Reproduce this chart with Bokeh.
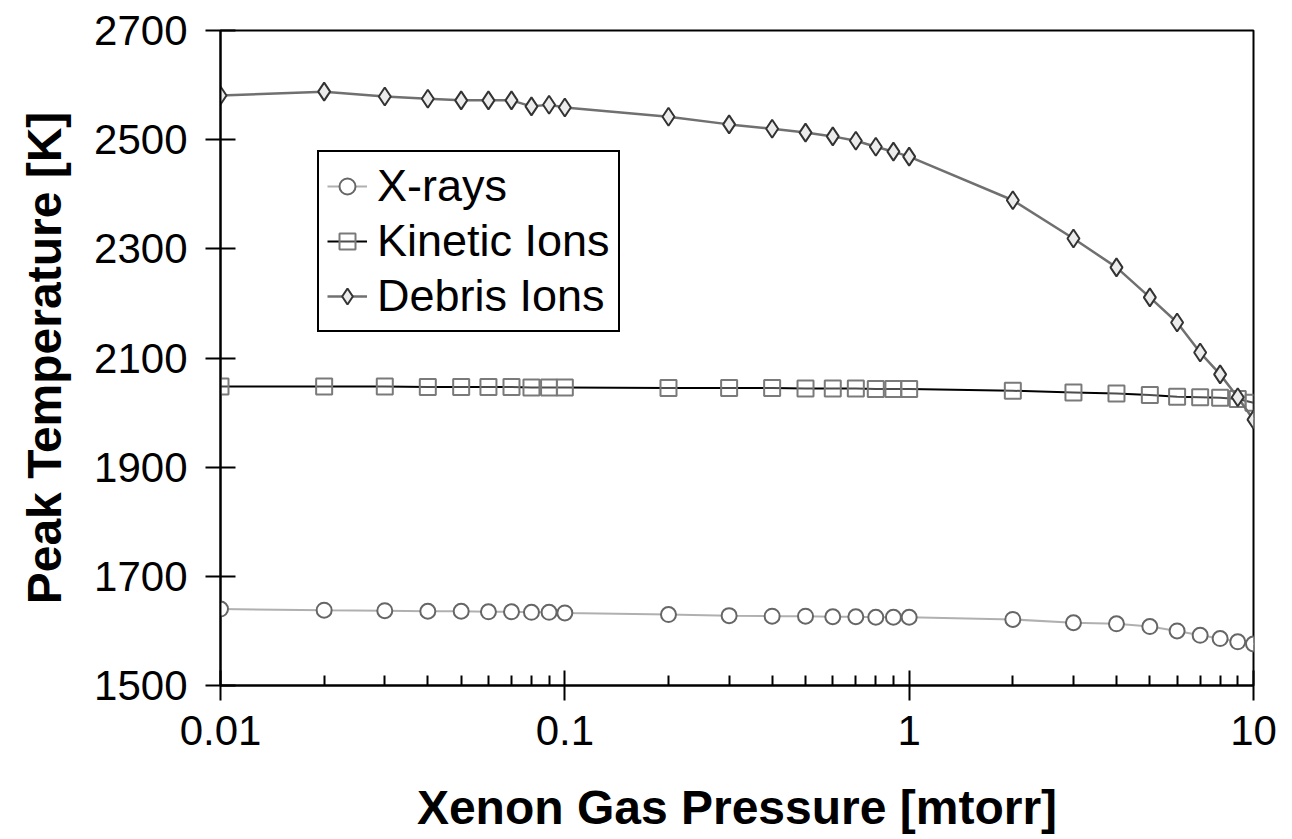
from bokeh.plotting import figure
from bokeh.models import FixedTicker, CustomJSTickFormatter, Legend, LegendItem, Range1d
from bokeh.embed import file_html
from bokeh.resources import INLINE

pressure = [0.01, 0.02, 0.03, 0.04, 0.05, 0.06, 0.07, 0.08, 0.09,
            0.1, 0.2, 0.3, 0.4, 0.5, 0.6, 0.7, 0.8, 0.9,
            1, 2, 3, 4, 5, 6, 7, 8, 9, 10]

xrays = [1640, 1638, 1637, 1636, 1636, 1635, 1635, 1634, 1634,
         1633, 1630, 1628, 1627, 1627, 1626, 1626, 1625, 1625,
         1625, 1621, 1615, 1613, 1608, 1600, 1592, 1586, 1580, 1576]

kinetic = [2048, 2048, 2048, 2047, 2047, 2047, 2047, 2046, 2046,
           2046, 2045, 2045, 2045, 2044, 2044, 2044, 2043, 2043,
           2043, 2040, 2037, 2035, 2032, 2029, 2028, 2027, 2025, 2018]

debris = [2581, 2588, 2579, 2575, 2572, 2572, 2572, 2561, 2564,
          2559, 2542, 2528, 2520, 2513, 2506, 2498, 2487, 2478,
          2469, 2389, 2319, 2266, 2211, 2165, 2110, 2070, 2028, 1987]

x_major_ticks = [0.01, 0.1, 1, 10]
y_ticks = [1500, 1700, 1900, 2100, 2300, 2500, 2700]

FONT = "Liberation Sans"

p = figure(width=1284, height=839, x_axis_type="log",
           x_range=Range1d(0.01, 10), y_range=Range1d(1500, 2700),
           output_backend="svg", toolbar_location=None,
           min_border_left=220, min_border_right=31,
           min_border_top=30, min_border_bottom=154)

p.background_fill_color = "white"
p.border_fill_color = "white"
p.outline_line_color = "black"
p.outline_line_alpha = 1
p.outline_line_width = 2
p.xgrid.visible = False
p.ygrid.visible = False

minor = [m * d for d in [0.01, 0.1, 1] for m in range(2, 10)]
p.xaxis.ticker = FixedTicker(ticks=x_major_ticks, minor_ticks=minor)
p.xaxis.formatter = CustomJSTickFormatter(code="return tick.toString();")
p.yaxis.ticker = FixedTicker(ticks=y_ticks)

for ax in [p.xaxis[0], p.yaxis[0]]:
    ax.axis_line_color = "black"
    ax.axis_line_width = 2
    ax.major_tick_line_color = "black"
    ax.major_tick_line_width = 2
    ax.minor_tick_line_color = "black"
    ax.minor_tick_line_width = 2
    ax.major_label_text_font = FONT
    ax.major_label_text_font_size = "42px"
    ax.major_label_text_color = "black"
    ax.axis_label_text_font = FONT
    ax.axis_label_text_font_style = "bold"
    ax.axis_label_text_font_size = "48px"
    ax.axis_label_text_color = "black"

p.xaxis.major_tick_in = 15
p.xaxis.major_tick_out = 15
p.xaxis.minor_tick_in = 10
p.xaxis.minor_tick_out = 0
p.xaxis.major_label_standoff = 15
p.xaxis.axis_label_standoff = 33
p.xaxis.axis_label = "Xenon Gas Pressure [mtorr]"

p.yaxis.major_tick_in = 15
p.yaxis.major_tick_out = 15
p.yaxis.minor_tick_line_color = None
p.yaxis.major_label_standoff = 18
p.yaxis.axis_label_standoff = 20
p.yaxis.axis_label = "Peak Temperature [K]"

lx = p.line(pressure, xrays, line_color="#b0b0b0", line_width=2)
sx = p.scatter(pressure, xrays, marker="circle", size=15,
               line_color="#666666", line_width=2, fill_color="white")
lk = p.line(pressure, kinetic, line_color="black", line_width=2)
sk = p.scatter(pressure, kinetic, marker="square", size=16,
               line_color="#7a7a7a", line_width=2, fill_color="white", fill_alpha=0.3)
ld = p.line(pressure, debris, line_color="#707070", line_width=2.5)
sd = p.scatter(pressure, debris, marker="diamond", size=18,
               line_color="#333333", line_width=2, fill_color="#ececec")

legend = Legend(items=[
    LegendItem(label="X-rays", renderers=[lx, sx]),
    LegendItem(label="Kinetic Ions", renderers=[lk, sk]),
    LegendItem(label="Debris Ions", renderers=[ld, sd]),
], location=(97, 353))
legend.label_text_font = FONT
legend.label_text_font_size = "45px"
legend.label_text_color = "black"
legend.label_height = 52
legend.glyph_height = 52
legend.glyph_width = 40
legend.label_standoff = 10
legend.spacing = 3
legend.padding = 8
legend.margin = 0
legend.border_line_color = "black"
legend.border_line_alpha = 1
legend.border_line_width = 2
legend.background_fill_color = "white"
legend.background_fill_alpha = 1
p.add_layout(legend, "center")

open("out.html", "w").write(file_html(p, INLINE))
